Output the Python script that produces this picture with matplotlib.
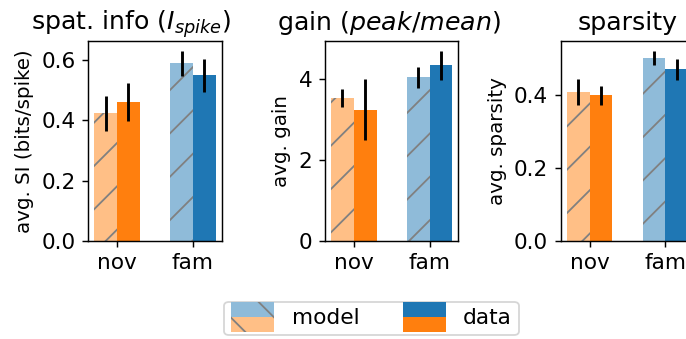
import matplotlib
matplotlib.use('Agg')
import matplotlib.pyplot as plt
from matplotlib.patches import Patch, Rectangle

categories = ['nov', 'fam']

si_model = [0.423, 0.590]
si_model_err = [0.057, 0.042]
si_data = [0.460, 0.550]
si_data_err = [0.063, 0.055]

gain_model = [3.52, 4.03]
gain_model_err = [0.22, 0.26]
gain_data = [3.23, 4.33]
gain_data_err = [0.75, 0.36]

sp_model = [0.409, 0.503]
sp_model_err = [0.037, 0.020]
sp_data = [0.400, 0.472]
sp_data_err = [0.026, 0.029]

titles = ['spat. info ($I_{spike}$)', 'gain ($peak/mean$)', 'sparsity']
ylabels = ['avg. SI (bits/spike)', 'avg. gain', 'avg. sparsity']

# model = light (tab colors at half alpha on white), data = full colour
model_colors = ['#ffbf86', '#8fbbd9']
data_colors = ['#ff7f0e', '#1f77b4']


class SplitHandler:
    '''legend handle: two stacked rectangles (blue over orange)'''
    def __init__(self, top, bottom, hatch=None):
        self.top = top
        self.bottom = bottom
        self.hatch = hatch

    def legend_artist(self, legend, orig_handle, fontsize, handlebox):
        x0, y0 = handlebox.xdescent, handlebox.ydescent
        w, h = handlebox.width, handlebox.height
        kw = dict(linewidth=0, transform=handlebox.get_transform())
        if self.hatch:
            kw.update(hatch=self.hatch, edgecolor='gray')
        r1 = Rectangle((x0, y0 + h / 2), w, h, facecolor=self.top, **kw)
        r2 = Rectangle((x0, y0 - h / 2), w, h, facecolor=self.bottom, **kw)
        handlebox.add_artist(r1)
        handlebox.add_artist(r2)
        return r1


def bar_panel(ax, model, model_err, data, data_err, title, ylabel, tx=0.5):
    x = list(range(len(categories)))
    w = 0.3
    ax.bar([i - w / 2 for i in x], model, w, yerr=model_err,
           color=model_colors, edgecolor='gray', linewidth=0, hatch='/',
           error_kw=dict(ecolor='black', elinewidth=1.6))
    ax.bar([i + w / 2 for i in x], data, w, yerr=data_err,
           color=data_colors, linewidth=0,
           error_kw=dict(ecolor='black', elinewidth=1.6))
    ax.set_xticks(x)
    ax.set_xticklabels(categories)
    ax.set_title(title, fontsize=14, x=tx)
    ax.set_ylabel(ylabel, fontsize=11)
    ax.tick_params(labelsize=12)


def main():
    dpi = 130
    fig = plt.figure(figsize=(686 / dpi, 339 / dpi), dpi=dpi)
    lefts = [0.1287, 0.4738, 0.8174]
    axes = [fig.add_axes([l, 0.29, 0.1945, 0.589]) for l in lefts]

    bar_panel(axes[0], si_model, si_model_err, si_data, si_data_err,
              titles[0], ylabels[0], tx=0.32)
    bar_panel(axes[1], gain_model, gain_model_err, gain_data, gain_data_err,
              titles[1], ylabels[1], tx=0.48)
    bar_panel(axes[2], sp_model, sp_model_err, sp_data, sp_data_err,
              titles[2], ylabels[2])

    h_model = Patch()
    h_data = Patch()
    fig.legend([h_model, h_data], ['model', 'data'], ncol=2, fontsize=12,
               loc='center', bbox_to_anchor=(0.5416, 0.0605),
               borderpad=0.3,
               handler_map={
                   h_model: SplitHandler(model_colors[1], model_colors[0],
                                         hatch='\\'),
                   h_data: SplitHandler(data_colors[1], data_colors[0])})

    fig.savefig('out.png', dpi=dpi)


if __name__ == "__main__":
    main()
